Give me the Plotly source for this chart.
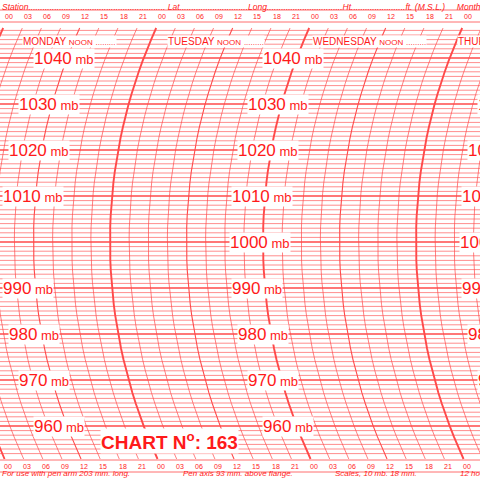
import numpy as np
import plotly.graph_objects as go

# chart data
days = ['MONDAY', 'TUESDAY', 'WEDNESDAY', 'THURSDAY']
hour_labels = ['00', '03', '06', '09', '12', '15', '18', '21']
pressure_labels = [1040, 1030, 1020, 1010, 1000, 990, 980, 970, 960]
label_columns = [6.7, 42.6, 78.7]   # hours where each pressure label column starts

RED = '#ff1a1a'
LINE = '#ff4a4a'
PXH = 6.375      # px per hour
PXMB = 4.6       # px per mb
R = 519.0        # pen arm radius, px
PC = 1000.0      # pressure at arc centre
T0PX = -43.0     # pixel of Monday 00 at arc centre

def off(p):
    dy = (p - PC) * PXMB
    return (R - np.sqrt(R**2 - dy**2)) / PXH

def px2p(py):
    return 1040 - (py - 58) / PXMB

xr = [(0 - T0PX) / PXH, (480 - T0PX) / PXH]
ptop, pbot = px2p(28), px2p(459)

fig = go.Figure()

# pressure lines
thin_x, thin_y, bold_x, bold_y = [], [], [], []
for p in range(954, 1047):
    tx, ty = (bold_x, bold_y) if p % 10 == 0 else (thin_x, thin_y)
    tx += [xr[0], xr[1], None]
    ty += [p, p, None]
fig.add_trace(go.Scatter(x=thin_x, y=thin_y, mode='lines', line=dict(color='#ff5c5c', width=0.7), hoverinfo='skip'))
fig.add_trace(go.Scatter(x=bold_x, y=bold_y, mode='lines', line=dict(color=LINE, width=1.6), hoverinfo='skip'))

# time arcs
ps = np.linspace(pbot, ptop, 40)
arcs = {0.7: ([], []), 1.1: ([], []), 1.9: ([], [])}
for t in range(-9, 84, 3):
    w = 1.9 if t % 24 == 0 else (1.1 if t % 12 == 0 else 0.7)
    ax, ay = arcs[w]
    ax += list(t + off(ps)) + [None]
    ay += list(ps) + [None]
for w, (ax, ay) in arcs.items():
    fig.add_trace(go.Scatter(x=ax, y=ay, mode='lines', line=dict(color=LINE, width=w), hoverinfo='skip'))

ann = []
# hour labels top and bottom
for py in (16, 466):
    p = px2p(py)
    for t in range(0, 84, 3):
        ann.append(dict(x=t + off(p), y=p, xref='x', yref='y', text=hour_labels[(t // 3) % 8],
                        showarrow=False, font=dict(size=7, color=RED, family='Liberation Sans')))

# pressure labels
for base in label_columns:
    for p in pressure_labels:
        ann.append(dict(x=base + off(p), y=p, xref='x', yref='y', xanchor='left',
                        text=f"{p}<span style='font-size:13px'> mb</span>", showarrow=False, bgcolor='white',
                        borderpad=0, font=dict(size=17, color=RED, family='Liberation Sans')))

# day labels
for i, d in enumerate(days):
    x = 22 + i * 145
    ann.append(dict(x=x / 480, y=1 - 35 / 480, xref='paper', yref='paper', xanchor='left', showarrow=False,
                    text=f"{d} <span style='font-size:8px'>NOON</span> <span style='font-size:8px'>.........</span>",
                    bgcolor='white', borderpad=0, font=dict(size=10, color=RED, family='Liberation Sans')))

# header / footer
ann.append(dict(x=0, y=1, xref='paper', yref='paper', xanchor='left', yanchor='top', showarrow=False,
                text='<i>Station.......................................................... Lat.............................Long......'
                     '..........................Ht.......................ft. (M.S.L.)     Month...............</i>',
                font=dict(size=8.5, color=RED, family='Liberation Sans')))
for x, txt in [(0, 'For use with pen arm 203 mm. long.'), (181, 'Pen axis 93 mm. above flange.'),
               (333, 'Scales, 10 mb. 18 mm.'), (458, '12 hours')]:
    ann.append(dict(x=x / 480, y=0, xref='paper', yref='paper', xanchor='left', yanchor='bottom', showarrow=False,
                    text=f'<i>{txt}</i>', font=dict(size=8, color=RED, family='Liberation Sans')))
ann.append(dict(x=100 / 480, y=1 - 454 / 480, xref='paper', yref='paper', xanchor='left', showarrow=False,
                text="<b>CHART N<sup>o</sup>: 163</b>", bgcolor='white', borderpad=0,
                font=dict(size=19, color=RED, family='Liberation Sans')))

shapes = [dict(type='line', xref='paper', yref='paper', x0=0, x1=1, y0=1 - y / 480, y1=1 - y / 480,
               line=dict(color=LINE, width=0.8)) for y in (10, 22, 460, 472)]

fig.update_layout(width=480, height=480, margin=dict(l=0, r=0, t=0, b=0), showlegend=False,
                  plot_bgcolor='white', paper_bgcolor='white', annotations=ann, shapes=shapes,
                  xaxis=dict(range=xr, visible=False, fixedrange=True),
                  yaxis=dict(range=[px2p(480), px2p(0)], visible=False, fixedrange=True))
fig.write_html('out.html', config={'displayModeBar': False},
               post_script="document.body.style.margin='0';document.body.style.overflow='hidden';")
